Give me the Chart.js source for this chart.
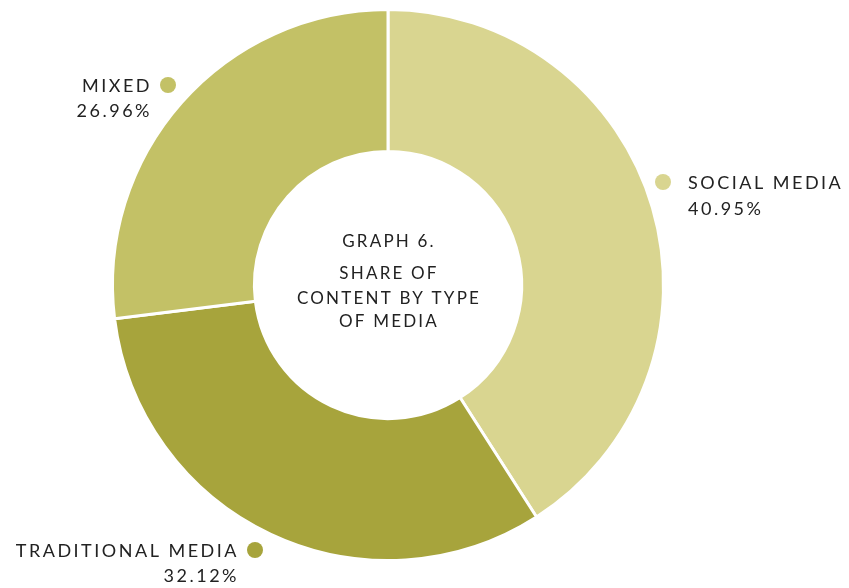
<!DOCTYPE html>
<html>
<head>
<meta charset="utf-8">
<script src="https://cdn.jsdelivr.net/npm/chart.js@4"></script>
<style>
  html, body { margin: 0; padding: 0; background: #fff; }
  #wrap { width: 849px; height: 588px; position: relative; }
</style>
</head>
<body>
<div id="wrap"><canvas id="myChart"></canvas></div>
<script>
// data
var categories = ['SOCIAL MEDIA', 'TRADITIONAL MEDIA', 'MIXED'];
var shares = [40.95, 32.12, 26.96];
var colors = ['#d9d590', '#a7a43c', '#c3c166'];
var centerTitle = ['GRAPH 6.', 'SHARE OF', 'CONTENT BY TYPE', 'OF MEDIA'];

// where each label sits: dot centre and which side the text goes
var labelSpots = [
  { dx: 663, dy: 182, side: 'right' },
  { dx: 255, dy: 550, side: 'left' },
  { dx: 168, dy: 85, side: 'left' }
];

var labelsPlugin = {
  id: 'labels',
  afterDraw: function (chart) {
    var ctx = chart.ctx;
    var meta = chart.getDatasetMeta(0);
    ctx.save();
    ctx.font = '18px Lato, "Noto Sans", sans-serif';
    ctx.letterSpacing = '2.5px';
    ctx.fillStyle = '#222';
    ctx.textBaseline = 'middle';

    categories.forEach(function (name, i) {
      var s = labelSpots[i];
      ctx.beginPath();
      ctx.arc(s.dx, s.dy, 8, 0, Math.PI * 2);
      ctx.fillStyle = colors[i];
      ctx.fill();
      ctx.fillStyle = '#222';
      var pct = shares[i].toFixed(2) + '%';
      if (s.side === 'right') {
        ctx.textAlign = 'left';
        ctx.fillText(name, s.dx + 25, s.dy + 1);
        ctx.fillText(pct, s.dx + 25, s.dy + 27);
      } else {
        // right-aligned text: trailing letter spacing pushes it left, compensate
        ctx.textAlign = 'right';
        ctx.fillText(name, s.dx - 16, s.dy + 1);
        ctx.fillText(pct, s.dx - 16, s.dy + 26);
      }
    });

    // centre title
    var arc = meta.data[0];
    var cx = arc.x + 1, cy = arc.y;
    ctx.font = '17px Lato, "Noto Sans", sans-serif';
    ctx.letterSpacing = '2.2px';
    ctx.textAlign = 'center';
    var ys = [-43, -11, 14, 37];
    centerTitle.forEach(function (t, j) {
      ctx.fillText(t, cx, cy + ys[j]);
    });
    ctx.restore();
  }
};

var ctx = document.getElementById('myChart').getContext('2d');
var chart = new Chart(ctx, {
  type: 'doughnut',
  data: {
    labels: categories,
    datasets: [{
      data: shares,
      backgroundColor: colors,
      borderColor: '#ffffff',
      borderWidth: 3
    }]
  },
  options: {
    responsive: true,
    maintainAspectRatio: false,
    animation: false,
    cutout: '48.5%',
    layout: { padding: { left: 111, right: 184, top: 8, bottom: 26 } },
    plugins: {
      legend: { display: false },
      tooltip: { enabled: false }
    }
  },
  plugins: [labelsPlugin]
});
</script>
</body>
</html>
